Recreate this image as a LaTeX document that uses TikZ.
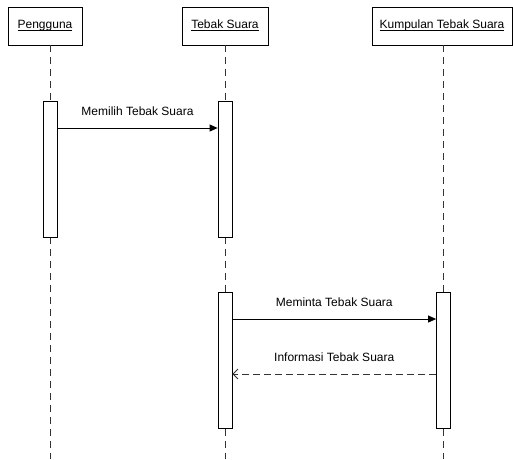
\documentclass[tikz,border=0pt]{standalone}
\usepackage{fontspec}
\setmainfont{Liberation Sans}
\usetikzlibrary{arrows.meta,positioning}

\newcommand{\objname}[1]{\underline{\smash{#1}}\vphantom{Pg}}

\begin{document}
\begin{tikzpicture}[x=1pt,y=-1pt,line width=0.8pt,font=\fontsize{12}{14}\selectfont,
					obj node/.style={rectangle,draw,minimum height=38pt,inner sep=0pt},
					act node/.style={rectangle,draw,fill=white,minimum width=14pt,minimum height=136pt,inner sep=0pt},
					life line/.style={dash pattern=on 7pt off 5pt,draw=black!80},
					call/.style={-{Triangle[length=8pt,width=7pt]}},
					reply/.style={-{Straight Barb[length=5pt,width=10pt]},dash pattern=on 7pt off 4pt,draw=black!80}]

				\useasboundingbox (0,0) rectangle (513,459);

				% objek
				\node[obj node,minimum width=74pt] (user) at (45,26) {\objname{Pengguna}};
				\node[obj node,minimum width=86pt] (tebak) at (225,26) {\objname{Tebak Suara}};
				\node[obj node,minimum width=140pt] (kumpulan) at (442,26) {\objname{Kumpulan Tebak Suara}};

				% garis hidup
				\coordinate (userend) at (50,459);
				\coordinate (tebakend) at (225,459);
				\coordinate (kumpulanend) at (443,459);
				\draw[life line] (user.south -| userend) -- (userend);
				\draw[life line] (tebak.south) -- (tebakend);
				\draw[life line] (kumpulan.south -| kumpulanend) -- (kumpulanend);

				% aktivasi
				\node[act node] (act1) at (50,169) {};
				\node[act node] (act2) at (225,169) {};
				\node[act node] (act3) at (225,360) {};
				\node[act node] (act4) at (443.5,360) {};

				% pesan
				\coordinate (m1) at (50,128);
				\coordinate (m2) at (225,319);
				\coordinate (m3) at (225,374);
				\draw[call] (act1.east |- m1) -- node[above=9pt] {Memilih Tebak Suara} (act2.west |- m1);
				\draw[call] (act3.east |- m2) -- node[above=9pt] {Meminta Tebak Suara} (act4.west |- m2);
				\draw[reply] (act4.west |- m3) -- node[above=9pt] {Informasi Tebak Suara} (act3.east |- m3);
			\end{tikzpicture}
\end{document}
